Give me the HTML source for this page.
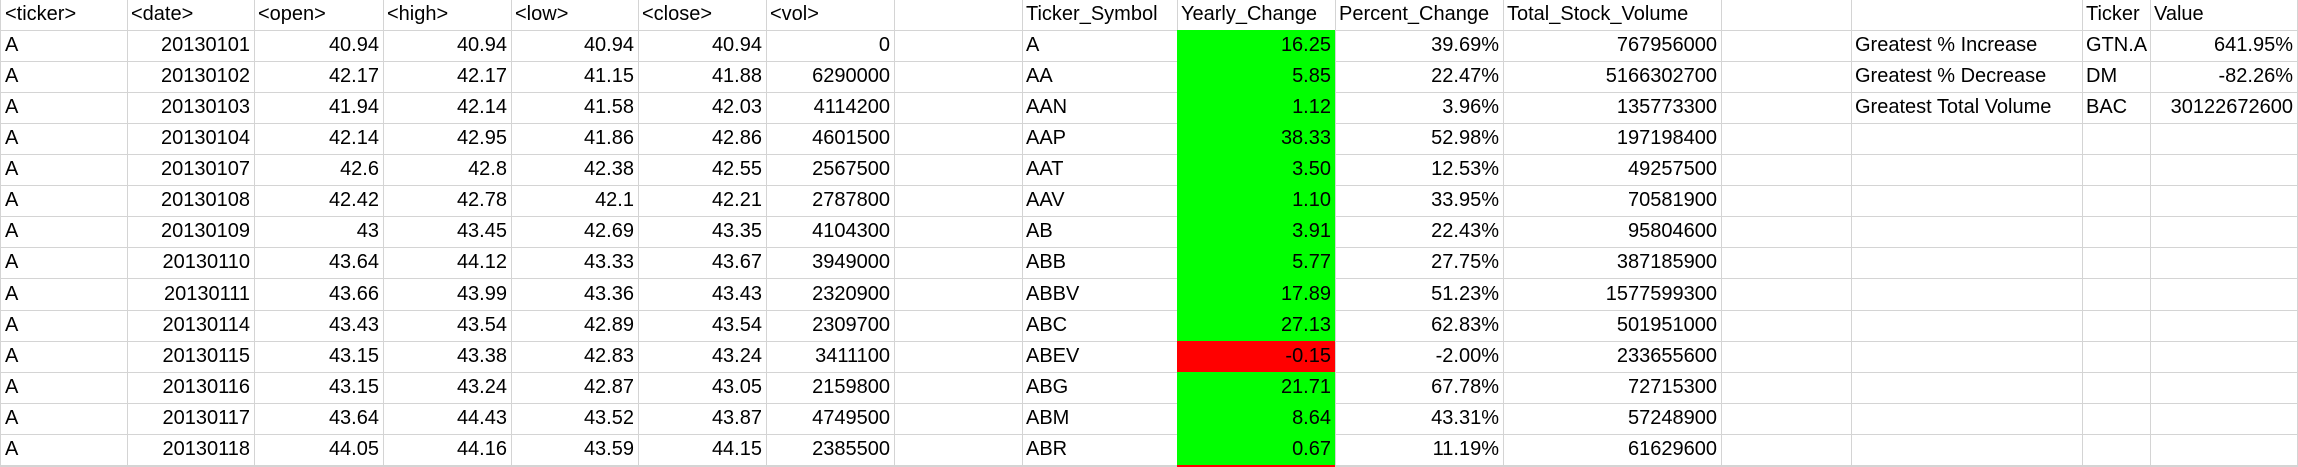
<!DOCTYPE html>
<html><head><meta charset="utf-8">
<style>
html,body{margin:0;padding:0;background:#fff;width:2298px;height:467px;overflow:hidden}
#grid{position:absolute;left:0;top:0;width:2298px;height:467px;overflow:hidden}
.c{position:absolute;box-sizing:border-box;border-right:1px solid #d4d4d4;border-bottom:1px solid #d4d4d4;font-family:"Liberation Sans",sans-serif;font-size:20px;color:#000;white-space:nowrap;overflow:hidden;padding:0 4px;line-height:1}
.c span{position:absolute;bottom:6px}
.l span{left:4px}
.r span{right:4px}
</style></head>
<body>
<div id="grid"></div>
<script>
const colEdges=[0,128,255,384,512,639,767,895,1023,1178,1336,1504,1722,1852,2083,2151,2298];
const headers=["<ticker>","<date>","<open>","<high>","<low>","<close>","<vol>","","Ticker_Symbol","Yearly_Change","Percent_Change","Total_Stock_Volume","","","Ticker","Value"];
const tickers=["A","A","A","A","A","A","A","A","A","A","A","A","A","A"];
const dates=["20130101","20130102","20130103","20130104","20130107","20130108","20130109","20130110","20130111","20130114","20130115","20130116","20130117","20130118"];
const opens=["40.94","42.17","41.94","42.14","42.6","42.42","43","43.64","43.66","43.43","43.15","43.15","43.64","44.05"];
const highs=["40.94","42.17","42.14","42.95","42.8","42.78","43.45","44.12","43.99","43.54","43.38","43.24","44.43","44.16"];
const lows=["40.94","41.15","41.58","41.86","42.38","42.1","42.69","43.33","43.36","42.89","42.83","42.87","43.52","43.59"];
const closes=["40.94","41.88","42.03","42.86","42.55","42.21","43.35","43.67","43.43","43.54","43.24","43.05","43.87","44.15"];
const vols=["0","6290000","4114200","4601500","2567500","2787800","4104300","3949000","2320900","2309700","3411100","2159800","4749500","2385500"];
const symbols=["A","AA","AAN","AAP","AAT","AAV","AB","ABB","ABBV","ABC","ABEV","ABG","ABM","ABR"];
const yearly=["16.25","5.85","1.12","38.33","3.50","1.10","3.91","5.77","17.89","27.13","-0.15","21.71","8.64","0.67"];
const percent=["39.69%","22.47%","3.96%","52.98%","12.53%","33.95%","22.43%","27.75%","51.23%","62.83%","-2.00%","67.78%","43.31%","11.19%"];
const totals=["767956000","5166302700","135773300","197198400","49257500","70581900","95804600","387185900","1577599300","501951000","233655600","72715300","57248900","61629600"];
const sumLabels=["Greatest % Increase","Greatest % Decrease","Greatest Total Volume"];
const sumTickers=["GTN.A","DM","BAC"];
const sumValues=["641.95%","-82.26%","30122672600"];

const grid=document.getElementById('grid');
function rowTop(r){return r===0?0:30+(r-1)*31.07;}
function cell(r,c,text,align,bg,name){
  const d=document.createElement('div');
  d.className='c '+(align||'l');
  
  
  d.style.left=(colEdges[c]-(c===0?0:1))+'px';
  d.style.width=(colEdges[c+1]-colEdges[c]+(c===0?0:1))+'px';
  const top=rowTop(r);
  let h=(r===0?31:32);
  if(top+h>467)h=467-top;
  d.style.top=top+'px';
  d.style.height=h+'px';
  if(c===0)d.style.borderLeft='1px solid #d4d4d4';
  if(bg){d.style.background=bg;d.style.borderBottomColor=bg;}
  if(text!==''){const s=document.createElement('span');s.textContent=text;d.appendChild(s);}
  grid.appendChild(d);
}
headers.forEach((h,c)=>cell(0,c,h,'l',null,'header-cell'));
for(let i=0;i<15;i++){
  const r=i+1;
  const has=i<14;
  const y=has?parseFloat(yearly[i]):-1;
  const yb=y<0?'#ff0000':'#00ff00';
  cell(r,0,has?tickers[i]:'','l',null,'ticker-cell');
  cell(r,1,has?dates[i]:'','r',null,'date-cell');
  cell(r,2,has?opens[i]:'','r',null,'open-cell');
  cell(r,3,has?highs[i]:'','r',null,'high-cell');
  cell(r,4,has?lows[i]:'','r',null,'low-cell');
  cell(r,5,has?closes[i]:'','r',null,'close-cell');
  cell(r,6,has?vols[i]:'','r',null,'vol-cell');
  cell(r,7,'','l',null,'blank-cell');
  cell(r,8,has?symbols[i]:'','l',null,'ticker-symbol-cell');
  cell(r,9,has?yearly[i]:'','r',yb,'yearly-change-cell');
  cell(r,10,has?percent[i]:'','r',null,'percent-change-cell');
  cell(r,11,has?totals[i]:'','r',null,'total-volume-cell');
  cell(r,12,'','l',null,'blank-cell');
  cell(r,13,i<3?sumLabels[i]:'','l',null,'summary-label-cell');
  cell(r,14,i<3?sumTickers[i]:'','l',null,'summary-ticker-cell');
  cell(r,15,i<3?sumValues[i]:'','r',null,'summary-value-cell');
}
</script>
</body></html>
